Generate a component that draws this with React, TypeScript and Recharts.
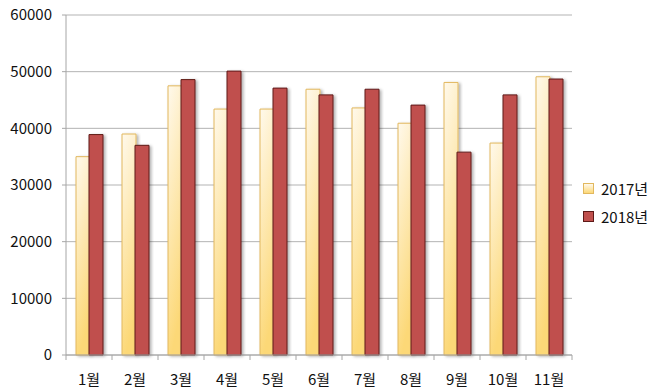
import { BarChart, Bar, XAxis, YAxis, CartesianGrid } from 'recharts';

const months = ['1월', '2월', '3월', '4월', '5월', '6월', '7월', '8월', '9월', '10월', '11월'];
const sales2017 = [35000, 39000, 47500, 43400, 43400, 46900, 43600, 40900, 48100, 37400, 49100];
const sales2018 = [38900, 37000, 48600, 50100, 47100, 45900, 46900, 44100, 35800, 45900, 48700];
const yTicks = [0, 10000, 20000, 30000, 40000, 50000, 60000];
const seriesNames = ['2017년', '2018년'];

const data = months.map((m, i) => ({ month: m, y2017: sales2017[i], y2018: sales2018[i] }));

const FONT = '"Noto Sans CJK KR", "Noto Sans", sans-serif';
const PLOT_W = 506;

const MonthTick = (props: any) => {
  const { x, y, payload, index } = props;
  const half = PLOT_W / months.length / 2;
  return (
    <g>
      <line x1={x - half} x2={x - half} y1={y} y2={y + 5} stroke="#a6a6a6" />
      {index === months.length - 1 && (
        <line x1={x + half} x2={x + half} y1={y} y2={y + 5} stroke="#a6a6a6" />
      )}
      <text x={x} y={y + 30} textAnchor="middle" fontSize={15} fill="#111" fontFamily={FONT}>
        {payload.value}
      </text>
    </g>
  );
};

export default function App() {
  return (
    <div style={{ position: 'absolute', left: 0, top: 0, width: 660, height: 391, background: '#fff', fontFamily: FONT }}>
      <BarChart
        width={660}
        height={391}
        data={data}
        margin={{ top: 15, right: 88, left: 0, bottom: 0 }}
        barSize={14}
        barGap={-1}
      >
        <defs>
          <linearGradient id="g2017" x1="0" y1="0" x2="0.25" y2="1">
            <stop offset="0%" stopColor="#fff9ec" />
            <stop offset="100%" stopColor="#fcd877" />
          </linearGradient>
          <filter id="shadow" x="-30%" y="-10%" width="160%" height="120%">
            <feDropShadow dx="2" dy="1" stdDeviation="1.5" floodColor="#000" floodOpacity="0.3" />
          </filter>
        </defs>
        <CartesianGrid vertical={false} stroke="#b3b3b3" />
        <XAxis
          dataKey="month"
          height={36}
          axisLine={{ stroke: '#a6a6a6' }}
          tickLine={false}
          tickSize={0}
          tickMargin={0}
          interval={0}
          tick={<MonthTick />}
        />
        <YAxis
          width={66}
          domain={[0, 60000]}
          ticks={yTicks}
          axisLine={{ stroke: '#a6a6a6' }}
          tickLine={{ stroke: '#a6a6a6' }}
          tickSize={4}
          tickMargin={10}
          tick={{ fontSize: 15, fill: '#111', fontFamily: FONT }}
        />
        <Bar
          dataKey="y2017"
          name={seriesNames[0]}
          fill="url(#g2017)"
          stroke="#e2b85e"
          strokeWidth={1}
          filter="url(#shadow)"
          isAnimationActive={false}
        />
        <Bar
          dataKey="y2018"
          name={seriesNames[1]}
          fill="#c0504d"
          stroke="#5e1a18"
          strokeWidth={1}
          filter="url(#shadow)"
          isAnimationActive={false}
        />
      </BarChart>
      <div style={{ position: 'absolute', left: 583, top: 174 }}>
        {seriesNames.map((name, i) => (
          <div key={name} style={{ display: 'flex', alignItems: 'center', height: 28, fontSize: 15, color: '#111' }}>
            <span
              style={{
                display: 'inline-block',
                width: 9,
                height: 9,
                marginRight: 7,
                border: i === 0 ? '1px solid #e2b85e' : '1px solid #5e1a18',
                background: i === 0 ? 'linear-gradient(#fff9ec, #fcd877)' : '#c0504d',
              }}
            />
            {name}
          </div>
        ))}
      </div>
    </div>
  );
}
